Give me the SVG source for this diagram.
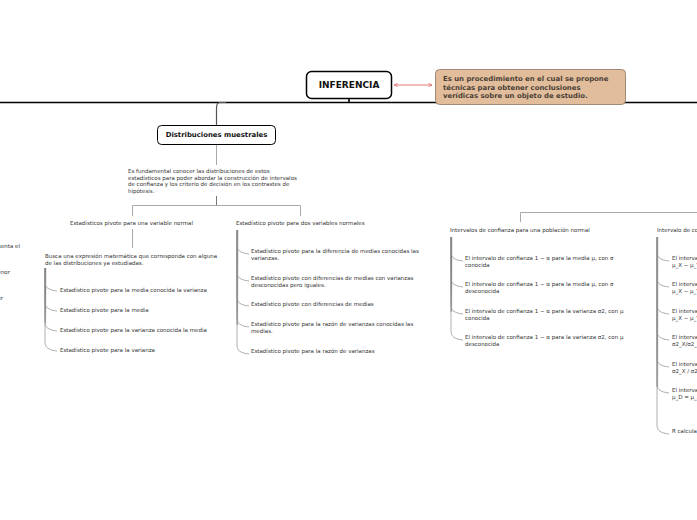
<svg xmlns="http://www.w3.org/2000/svg" width="697" height="520" viewBox="0 0 697 520">
<defs>
<linearGradient id="tg" x1="0" y1="0" x2="0" y2="1">
<stop offset="0" stop-color="#000"/>
<stop offset="1" stop-color="#aaa"/>
</linearGradient>
<marker id="ar" viewBox="0 0 6 6" refX="5" refY="3" markerWidth="5" markerHeight="5" orient="auto-start-reverse">
<path d="M0,0.5 L5,3 L0,5.5" fill="none" stroke="#e06666" stroke-width="1"/>
</marker>
</defs>
<style>
.t{font-family:"DejaVu Sans",Verdana,sans-serif;font-size:5.5px;fill:#333}
.b{font-family:"DejaVu Sans",Verdana,sans-serif;font-weight:bold;fill:#111}
.c{fill:none;stroke:#999;stroke-width:0.8}
.g{fill:none;stroke:#aaa;stroke-width:1}
</style>
<rect width="697" height="520" fill="#fff"/>
<g id="connectors">
<line x1="0" y1="102.5" x2="697" y2="102.5" stroke="#000" stroke-width="1.6"/>
<line x1="349" y1="98" x2="349" y2="102" stroke="#000" stroke-width="1.6"/>
<path d="M226,102.5 L220,102.5 Q216.5,102.5 216.5,108 L216.5,125" fill="none" stroke="#555" stroke-width="1.2"/>
<line x1="394" y1="85" x2="432" y2="85" stroke="#e06666" stroke-width="0.9" marker-start="url(#ar)" marker-end="url(#ar)"/>
<line x1="216.5" y1="144" x2="216.5" y2="165" class="g"/>
<line x1="216.5" y1="196" x2="216.5" y2="205" stroke="#777" stroke-width="1"/>
<path d="M132.5,216 V205.5 H300.5 V216" class="g"/>
<line x1="132.5" y1="229" x2="132.5" y2="248" class="g"/>
<path d="M520.5,222 V212.5 H697" class="g"/>
<rect x="44.5" y="268" width="1.6" height="55" fill="url(#tg)"/>
<path class="c" d="M45,268 V282 C45,288 49,290 57,291"/>
<path class="c" d="M45,268 V302 C45,308 49,310 57,311"/>
<path class="c" d="M45,268 V322 C45,328 49,330 57,331"/>
<path class="c" d="M45,268 V342 C45,348 49,350 57,351"/>
<rect x="236.5" y="230" width="1.6" height="95" fill="url(#tg)"/>
<path class="c" d="M237,230 V245 C237,251 241,253 249,254"/>
<path class="c" d="M237,230 V272 C237,278 241,280 249,281"/>
<path class="c" d="M237,230 V297 C237,303 241,305 249,306"/>
<path class="c" d="M237,230 V318 C237,324 241,326 249,327"/>
<path class="c" d="M237,230 V345 C237,351 241,353 249,354"/>
<rect x="450.5" y="237" width="1.6" height="75" fill="url(#tg)"/>
<path class="c" d="M451,237 V252 C451,258 455,260 463,261"/>
<path class="c" d="M451,237 V278 C451,284 455,286 463,287"/>
<path class="c" d="M451,237 V305 C451,311 455,313 463,314"/>
<path class="c" d="M451,237 V331 C451,337 455,339 463,340"/>
<rect x="656.5" y="237" width="1.6" height="150" fill="url(#tg)"/>
<path class="c" d="M657,237 V252 C657,258 661,260 669,261"/>
<path class="c" d="M657,237 V278 C657,284 661,286 669,287"/>
<path class="c" d="M657,237 V305 C657,311 661,313 669,314"/>
<path class="c" d="M657,237 V331 C657,337 661,339 669,340"/>
<path class="c" d="M657,237 V358 C657,364 661,366 669,367"/>
<path class="c" d="M657,237 V384 C657,390 661,392 669,393"/>
<path class="c" d="M657,237 V425 C657,431 661,433 669,434"/>
</g>
<g id="inferencia">
<rect x="306.5" y="71.5" width="85" height="27" rx="5" fill="#fff" stroke="#000" stroke-width="1.5"/>
<text class="b" x="349" y="88.2" font-size="9" text-anchor="middle">INFERENCIA</text>
</g>
<g id="definicion">
<rect x="435.5" y="69.5" width="190" height="35" rx="4" fill="#e2bd9c" stroke="#8c7461" stroke-width="0.8"/>
<text class="b" font-size="6.9" style="fill:#4a3f36">
<tspan x="443" y="81">Es un procedimiento en el cual se propone</tspan>
<tspan x="443" y="89.5">técnicas para obtener conclusiones</tspan>
<tspan x="443" y="98">verídicas sobre un objeto de estudio.</tspan>
</text>
</g>
<g id="distribuciones">
<rect x="157.5" y="125.5" width="118" height="19" rx="4" fill="#fff" stroke="#000" stroke-width="1"/>
<text class="b" x="216.5" y="137.3" font-size="6.9" text-anchor="middle">Distribuciones muestrales</text>
</g>
<g id="fundamental">
<text class="t">
<tspan x="128" y="173">Es fundamental conocer las distribuciones de estos</tspan>
<tspan x="128" y="179.5">estadísticos para poder abordar la construcción de intervalos</tspan>
<tspan x="128" y="186">de confianza y los criterio de decisión en los contrastes de</tspan>
<tspan x="128" y="192.5">hipótesis.</tspan>
</text>
</g>
<g id="izquierda">
<text class="t" x="20" y="248" text-anchor="end">representa el</text>
<text class="t" x="10" y="274" text-anchor="end">menor</text>
<text class="t" x="3" y="300" text-anchor="end">mayor</text>
</g>
<g id="una-variable">
<text class="t" x="70" y="225">Estadísticos pivote para una variable normal</text>
</g>
<g id="busca">
<text class="t"><tspan x="45" y="258">Busca una expresión matemática que corresponda con alguna</tspan><tspan x="45" y="264.5">de las distribuciones ya estudiadas.</tspan></text>
</g>
<g id="uv-items">
<text class="t" x="60" y="292">Estadístico pivote para la media conocida la varianza</text>
<text class="t" x="60" y="312">Estadístico pivote para la media</text>
<text class="t" x="60" y="332">Estadístico pivote para la varianza conocida la media</text>
<text class="t" x="60" y="352">Estadístico pivote para la varianza</text>
</g>
<g id="dos-variables">
<text class="t" x="236" y="225">Estadístico pivote para dos variables normales</text>
</g>
<g id="dv-items">
<text class="t"><tspan x="251" y="253">Estadístico pivote para la diferencia de medias conocidas las</tspan><tspan x="251" y="259.5">varianzas.</tspan></text>
<text class="t"><tspan x="251" y="280">Estadístico pivote con diferencias de medias con varianzas</tspan><tspan x="251" y="286.5">desconocidas pero iguales.</tspan></text>
<text class="t" x="251" y="305.5">Estadístico pivote con diferencias de medias</text>
<text class="t"><tspan x="251" y="326">Estadístico pivote para la razón de varianzas conocidas las</tspan><tspan x="251" y="332.5">medias.</tspan></text>
<text class="t" x="251" y="353">Estadístico pivote  para la razón de varianzas</text>
</g>
<g id="una-poblacion">
<text class="t" x="450" y="232">Intervalos de confianza para una población normal</text>
</g>
<g id="up-items">
<text class="t"><tspan x="465" y="260">El intervalo de confianza 1 − α  para la media μ, con σ</tspan><tspan x="465" y="266.5">conocida</tspan></text>
<text class="t"><tspan x="465" y="286">El intervalo de confianza 1 − α  para la media μ, con σ</tspan><tspan x="465" y="292.5">desconocida</tspan></text>
<text class="t"><tspan x="465" y="313">El intervalo de confianza 1 − α para la varianza σ2, con μ</tspan><tspan x="465" y="319.5">conocida</tspan></text>
<text class="t"><tspan x="465" y="339">El intervalo de confianza 1 − α para la varianza σ2, con μ</tspan><tspan x="465" y="345.5">desconocida</tspan></text>
</g>
<g id="dos-poblaciones">
<text class="t" x="657" y="232">Intervalo de confianza para dos poblaciones normales</text>
</g>
<g id="dp-items">
<text class="t"><tspan x="672" y="260">El intervalo de confianza 1 − α para</tspan><tspan x="672" y="266.5">μ_X − μ_Y con varianzas conocidas</tspan></text>
<text class="t"><tspan x="672" y="286">El intervalo de confianza 1 − α para</tspan><tspan x="672" y="292.5">μ_X − μ_Y con varianzas iguales</tspan></text>
<text class="t"><tspan x="672" y="313">El intervalo de confianza 1 − α para</tspan><tspan x="672" y="319.5">μ_X − μ_Y con varianzas distintas</tspan></text>
<text class="t"><tspan x="672" y="339">El intervalo de confianza 1 − α para</tspan><tspan x="672" y="345.5">σ2_X/σ2_Y con medias conocidas</tspan></text>
<text class="t"><tspan x="672" y="366">El intervalo de confianza 1 − α para</tspan><tspan x="672" y="372.5">σ2_X / σ2_Y con medias desconocidas</tspan></text>
<text class="t"><tspan x="672" y="392">El intervalo de confianza 1 − α para</tspan><tspan x="672" y="398.5">μ_D = μ_X − μ_Y datos apareados</tspan></text>
<text class="t" x="672" y="433">R calcula los intervalos</text>
</g>
</svg>
